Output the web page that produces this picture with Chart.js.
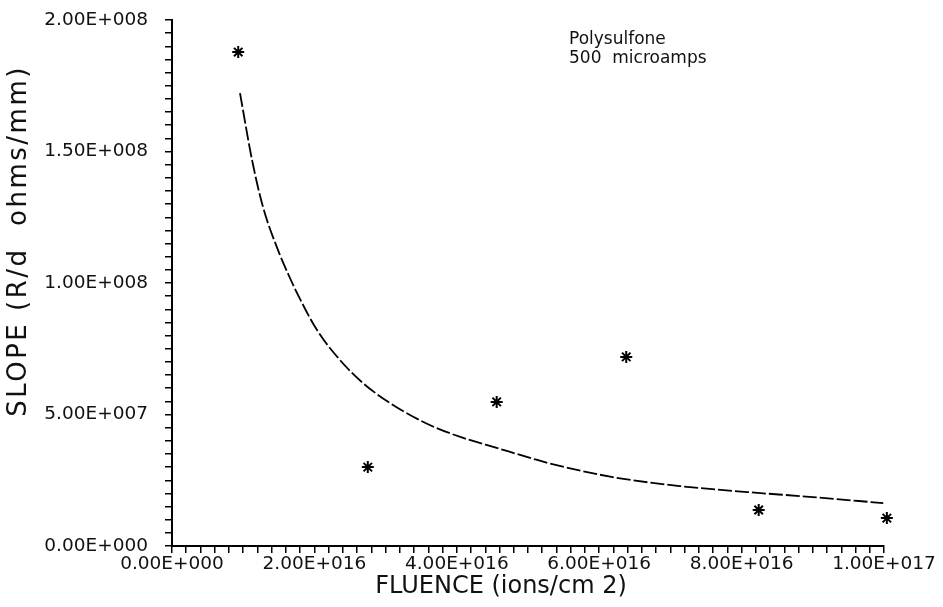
<!DOCTYPE html>
<html>
<head>
<meta charset="utf-8">
<script src="https://cdn.jsdelivr.net/npm/chart.js@4"></script>
<style>
  html, body { margin: 0; padding: 0; background: #fff; }
  #wrap { width: 943px; height: 607px; }
</style>
</head>
<body>
<div id="wrap"><canvas id="slopeChart" width="943" height="607"></canvas></div>
<script>
// measured points (asterisks)
const fluence = [0.93e16, 2.75e16, 4.56e16, 6.38e16, 8.24e16, 1.004e17];
const slope = [1.878e8, 3.0e7, 5.48e7, 7.19e7, 1.37e7, 1.06e7];

// fitted curve
const fitFluence = [0.955e16, 1.124e16, 1.278e16, 1.489e16, 1.657e16, 1.756e16, 2.037e16, 2.36e16, 2.68e16, 3.06e16,
  3.62e16, 4.09e16, 4.56e16, 5.03e16, 5.27e16, 6.19e16, 7.13e16, 8.08e16, 9.0e16, 9.99e16];
const fitSlope = [1.722e8, 1.468e8, 1.289e8, 1.125e8, 1.019e8, 9.62e7, 8.21e7, 7.07e7, 6.2e7, 5.44e7,
  4.6e7, 4.11e7, 3.73e7, 3.35e7, 3.16e7, 2.62e7, 2.28e7, 2.05e7, 1.86e7, 1.63e7];

const annotationLines = ['Polysulfone', '500  microamps'];
const xTitle = 'FLUENCE (ions/cm 2)';
const yTitle = 'SLOPE (R/d  ohms/mm)';

function sciLabel(v) {
  const parts = v.toExponential(2).split('e');
  const exp = parseInt(parts[1], 10);
  const sign = exp < 0 ? '-' : '+';
  return parts[0].toUpperCase() + 'E' + sign + String(Math.abs(exp)).padStart(3, '0');
}

const FONT = 'DejaVu Sans';

// note in the corner and the two axis titles (placed like the original plot)
const textPlugin = {
  id: 'texts',
  afterDraw(chart) {
    const ctx = chart.ctx;
    ctx.save();
    ctx.fillStyle = '#111';
    ctx.font = '17px "' + FONT + '"';
    ctx.textBaseline = 'alphabetic';
    ctx.textAlign = 'left';
    annotationLines.forEach((t, i) => ctx.fillText(t, 569, 44 + i * 19));

    ctx.font = '24px "' + FONT + '"';
    ctx.textAlign = 'center';
    ctx.textBaseline = 'middle';
    ctx.fillText(xTitle, 501, 587);

    ctx.translate(19, 241);
    ctx.rotate(-Math.PI / 2);
    ctx.font = '26px "' + FONT + '"';
    ctx.letterSpacing = '2.5px';
    ctx.fillText(yTitle, 0, 0);
    ctx.restore();
  }
};

const points = fluence.map((x, i) => ({ x: x, y: slope[i] }));
const fit = fitFluence.map((x, i) => ({ x: x, y: fitSlope[i] }));

new Chart(document.getElementById('slopeChart'), {
  type: 'scatter',
  data: {
    datasets: [
      {
        label: 'data',
        data: points,
        pointStyle: 'star',
        pointRadius: 6,
        borderWidth: 2,
        borderColor: '#000',
        backgroundColor: '#000',
        clip: false
      },
      {
        label: 'fit',
        data: fit,
        showLine: true,
        pointRadius: 0,
        borderColor: '#000',
        borderWidth: 1.8,
        borderDash: [14, 3],
        cubicInterpolationMode: 'monotone',
        fill: false
      }
    ]
  },
  options: {
    responsive: false,
    animation: false,
    layout: { padding: { left: 4, right: 59, top: 20, bottom: 0 } },
    plugins: {
      legend: { display: false },
      tooltip: { enabled: false }
    },
    scales: {
      x: {
        type: 'linear',
        min: 0,
        max: 1e17,
        afterFit: function(scale) {
          scale.height = 61;
          scale.paddingLeft = 0;
          scale.paddingRight = 0;
        },
        border: { display: true, color: '#000', width: 2 },
        grid: { drawOnChartArea: false, drawTicks: true, tickLength: 7, color: '#000', lineWidth: 1.5 },
        ticks: {
          stepSize: 2e15,
          autoSkip: false,
          maxRotation: 0,
          padding: 0,
          color: '#111',
          font: { family: FONT, size: 18.5 },
          callback: function(v) { return Math.round(v / 2e15) % 10 === 0 ? sciLabel(v) : ''; }
        },
        title: { display: false }
      },
      y: {
        type: 'linear',
        min: 0,
        max: 2e8,
        afterFit: function(scale) {
          scale.width = 168;
          scale.paddingTop = 0;
          scale.paddingBottom = 0;
        },
        border: { display: true, color: '#000', width: 2 },
        grid: { drawOnChartArea: false, drawTicks: true, tickLength: 7, color: '#000', lineWidth: 1.5 },
        ticks: {
          stepSize: 5e6,
          autoSkip: false,
          padding: 17,
          color: '#111',
          font: { family: FONT, size: 18.5 },
          callback: function(v) { return Math.round(v / 5e6) % 10 === 0 ? sciLabel(v) : ''; }
        },
        title: { display: false }
      }
    }
  },
  plugins: [textPlugin]
});
</script>
</body>
</html>
